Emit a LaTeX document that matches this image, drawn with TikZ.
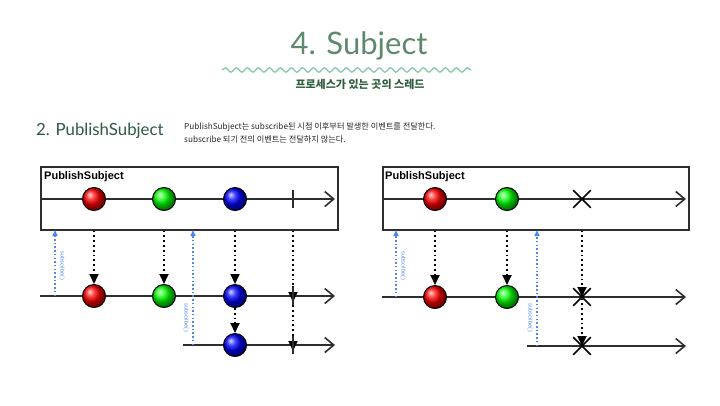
\documentclass[tikz,border=0pt]{standalone}
\usepackage{fontspec}
\setmainfont{Liberation Sans}
\newfontfamily\kr{Noto Sans CJK KR}
\newfontfamily\ttl{Lato}
\usetikzlibrary{arrows.meta,shapes.misc,decorations.pathmorphing}
\definecolor{ttlgreen}{HTML}{5E8A6C}
\definecolor{wavegreen}{HTML}{7FC79E}
\definecolor{subgreen}{HTML}{2F5E3E}
\definecolor{hdgreen}{HTML}{2E5A40}
\definecolor{subblue}{HTML}{4F86E8}
\definecolor{linegray}{HTML}{2E2E2E}
\tikzset{
  ballnode/.style={circle, minimum size=23pt, inner sep=0pt, draw=black, line width=1pt, ball color=#1},
  timeline/.style={draw=linegray, line width=1.8pt, -{Straight Barb[length=9pt,width=15pt,line width=1.6pt]}},
  emit/.style={draw=black, line width=1.8pt, dash pattern=on 1.8pt off 3pt, -{Triangle[length=10pt,width=9pt]}},
  subarrow/.style={draw=subblue, line width=1.4pt, dash pattern=on 1.5pt off 2.2pt, -{Triangle[length=6pt,width=5pt]}},
  sublabel/.style={rotate=-90, text=subblue, font=\fontsize{5.5}{6}\selectfont, inner sep=0pt},
  boxnode/.style={draw=linegray, line width=1.6pt, anchor=north west, inner sep=0pt},
  boxlabel/.style={font=\bfseries\fontsize{11}{12}\selectfont, anchor=west, inner sep=0pt},
  crossmark/.style={cross out, draw=black, line width=1.6pt, minimum size=16pt, inner sep=0pt},
  tickmark/.style={draw=linegray, line width=1.8pt}
}
\begin{document}
\begin{tikzpicture}[x=1pt,y=-1pt]
\useasboundingbox[fill=white] (0,0) rectangle (720,405);

% title
\node[font=\ttl\fontsize{31}{34}\selectfont, text=ttlgreen] (title) at (359,46) {4. Subject};
\coordinate (wa) at (222,70);
\coordinate (wb) at (471,70);
\draw[wavegreen, line width=1.2pt, decorate, decoration={snake, amplitude=2.2pt, segment length=11pt}] (wa) -- (wb);
\node[font=\kr\bfseries\fontsize{11}{13}\selectfont, text=subgreen] (subtitle) at (360,84) {프로세스가 있는 곳의 스레드};

\node[font=\ttl\fontsize{16.8}{18}\selectfont, text=hdgreen, anchor=west, inner sep=0pt] (heading) at (36,131) {2. PublishSubject};
\node[font=\kr\fontsize{8.2}{13}\selectfont, text=black!85, anchor=north west, inner sep=0pt, align=left] (desc) at (184,122.5)
  {PublishSubject는 subscribe된 시점 이후부터 발생한 이벤트를 전달한다.\\subscribe 되기 전의 이벤트는 전달하지 않는다.};

% ================= left diagram =================
\node[boxnode, minimum width=297pt, minimum height=63pt] (boxL) at (40,166) {};
\node[boxlabel] (labL) at (44,176.5) {PublishSubject};
\coordinate (a1s) at (40,199); \coordinate (a1e) at (335,199);
\draw[timeline] (a1s) -- (a1e);
\node[ballnode=red] (ar1) at (94,199) {};
\node[ballnode=green] (ag1) at (164,199) {};
\node[ballnode=blue] (ab1) at (235,199) {};
\coordinate (at1) at (293,199);
\draw[tickmark] ([yshift=-9pt]at1) -- ([yshift=9pt]at1);

% second line
\coordinate (a2s) at (40,296); \coordinate (a2e) at (335,296);
\draw[timeline] (a2s) -- (a2e);
\node[ballnode=red] (ar2) at (94,296) {};
\node[ballnode=green] (ag2) at (164,296) {};
\node[ballnode=blue] (ab2) at (235,296) {};
\coordinate (at2) at (293,296);

% third line
\coordinate (a3s) at (183,345); \coordinate (a3e) at (335,345);
\draw[timeline] (a3s) -- (a3e);
\node[ballnode=blue] (ab3) at (235,345) {};
\coordinate (at3) at (293,345);

% emissions
\draw[emit] (ar1 |- boxL.south) -- (ar2.north);
\draw[emit] (ag1 |- boxL.south) -- (ag2.north);
\draw[emit] (ab1 |- boxL.south) -- (ab2.north);
\draw[emit] (at1 |- boxL.south) -- ([yshift=-6pt]at2);
\draw[emit] (ab2.south) -- (ab3.north);
\draw[emit] ([yshift=10pt]at2) -- ([yshift=-6pt]at3);
\draw[tickmark] ([yshift=-9pt]at2) -- ([yshift=9pt]at2);
\draw[tickmark] ([yshift=-9pt]at3) -- ([yshift=9pt]at3);

% subscriptions
\coordinate (as1) at (55,296); \coordinate (as1t) at (55,230);
\draw[subarrow] (as1) -- (as1t);
\node[sublabel] (asl1) at (62,266) {subscribe( )};
\coordinate (as2) at (193,345); \coordinate (as2t) at (193,230);
\draw[subarrow] (as2) -- (as2t);
\node[sublabel] (asl2) at (186,318) {subscribe( )};

% ================= right diagram =================
\node[boxnode, minimum width=306pt, minimum height=63pt] (boxR) at (382,166) {};
\node[boxlabel] (labR) at (385,176.5) {PublishSubject};
\coordinate (b1s) at (382,199); \coordinate (b1e) at (686,199);
\draw[timeline] (b1s) -- (b1e);
\node[ballnode=red] (br1) at (435,199) {};
\node[ballnode=green] (bg1) at (507,199) {};
\node[crossmark] (bx1) at (582,199) {};

\coordinate (b2s) at (382,297); \coordinate (b2e) at (686,297);
\draw[timeline] (b2s) -- (b2e);
\node[ballnode=red] (br2) at (435,297) {};
\node[ballnode=green] (bg2) at (507,297) {};

\coordinate (b3s) at (527,346); \coordinate (b3e) at (686,346);
\draw[timeline] (b3s) -- (b3e);

\draw[emit] (br1 |- boxR.south) -- (br2.north);
\draw[emit] (bg1 |- boxR.south) -- (bg2.north);
\coordinate (bx2c) at (582,297);
\coordinate (bx3c) at (582,346);
\draw[emit] (bx1 |- boxR.south) -- (bx2c);
\draw[emit] ([yshift=8pt]bx2c) -- (bx3c);
\node[crossmark] (bx2) at (bx2c) {};
\node[crossmark] (bx3) at (bx3c) {};

\coordinate (bs1) at (396,297); \coordinate (bs1t) at (396,230);
\draw[subarrow] (bs1) -- (bs1t);
\node[sublabel] (bsl1) at (403,266) {subscribe( )};
\coordinate (bs2) at (537,346); \coordinate (bs2t) at (537,230);
\draw[subarrow] (bs2) -- (bs2t);
\node[sublabel] (bsl2) at (530,318) {subscribe( )};
\end{tikzpicture}
\end{document}
